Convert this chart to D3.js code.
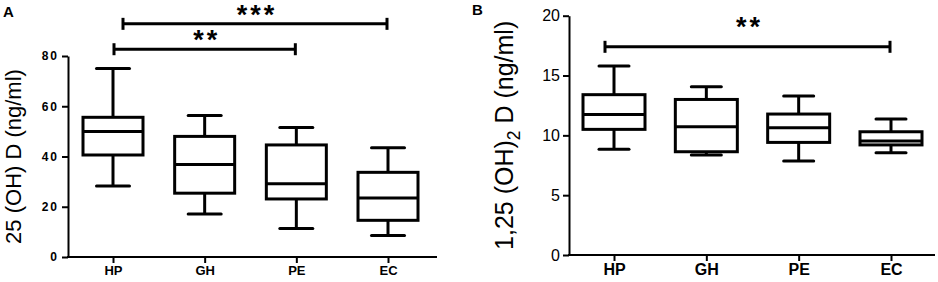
<!DOCTYPE html>
<html>
<head>
<meta charset="utf-8">
<script src="https://cdn.jsdelivr.net/npm/d3@7"></script>
<style>
	body { margin: 0; background: #fff; }
	svg { display: block; font-family: 'Liberation Sans', Arial, sans-serif; }
	.axis path, .axis line { stroke: #000; stroke-width: 2; }
	.box { fill: #fff; stroke: #000; stroke-width: 3; }
	.whisker { stroke: #000; stroke-width: 3; stroke-linecap: round; }
	.sig { stroke: #000; stroke-width: 3; }
</style>
</head>
<body>
<div id="graphic"></div>
<script>
var categories = ['HP', 'GH', 'PE', 'EC'];

// panel A: 25 (OH) D, ng/ml  [min, q1, median, q3, max]
var statsA = [
	[28.3, 40.6, 50.0, 55.6, 75.0],
	[17.1, 25.4, 36.8, 48.0, 56.3],
	[11.3, 23.1, 29.2, 44.6, 51.5],
	[8.6, 14.6, 23.5, 33.7, 43.5]
];
var ticksA = [0, 20, 40, 60, 80];
var sigA = [
	{ from: 'HP', to: 'EC', level: 92.8, label: '***' },
	{ from: 'HP', to: 'PE', level: 82.7, label: '**' }
];

// panel B: 1,25 (OH)2 D, ng/ml
var statsB = [
	[8.83, 10.5, 11.75, 13.4, 15.8],
	[8.35, 8.63, 10.72, 13.0, 14.06],
	[7.85, 9.41, 10.64, 11.78, 13.28],
	[8.55, 9.2, 9.52, 10.3, 11.36]
];
var ticksB = [0, 5, 10, 15, 20];
var sigB = [
	{ from: 'HP', to: 'EC', level: 17.4, label: '**' }
];

var svg = d3.select('#graphic').append('svg')
	.attr('width', 938).attr('height', 282);

function drawPanel(opt) {
	var g = svg.append('g');

	var x = d3.scalePoint().domain(categories).range(opt.xRange);
	var y = d3.scaleLinear().domain([0, d3.max(opt.ticks)]).range(opt.yRange);

	// y axis
	var yAxis = d3.axisLeft(y).tickValues(opt.ticks).tickSize(6).tickSizeOuter(0).tickPadding(3);
	var ya = g.append('g').attr('class', 'axis')
		.attr('transform', 'translate(' + opt.axisLeft + ',0)')
		.call(yAxis);
	ya.selectAll('text')
		.attr('fill', '#000')
		.style('font-size', opt.tickFont + 'px')
		.style('font-weight', opt.tickWeight)
		.style('letter-spacing', opt.tickSpacing + 'px');

	// x axis
	var xAxis = d3.axisBottom(x).tickSize(6).tickSizeOuter(0).tickPadding(3);
	var xa = g.append('g').attr('class', 'axis')
		.attr('transform', 'translate(0,' + opt.yRange[0] + ')')
		.call(xAxis);
	xa.select('.domain').remove();
	xa.append('line')
		.attr('x1', opt.axisLeft - 1).attr('x2', opt.axisRight)
		.attr('y1', 0).attr('y2', 0);
	xa.selectAll('text')
		.attr('fill', '#000')
		.style('font-size', opt.catFont + 'px')
		.style('font-weight', 'bold');

	// boxes
	var bw = opt.boxWidth, cw = opt.capWidth;
	var boxes = g.selectAll('g.bp').data(opt.stats).join('g').attr('class', 'bp');
	boxes.append('line').attr('class', 'whisker')
		.attr('x1', (d, i) => x(categories[i])).attr('x2', (d, i) => x(categories[i]))
		.attr('y1', (d) => y(d[0])).attr('y2', (d) => y(d[4]))
		.style('stroke-linecap', 'butt');
	boxes.append('line').attr('class', 'whisker')
		.attr('x1', (d, i) => x(categories[i]) - cw / 2).attr('x2', (d, i) => x(categories[i]) + cw / 2)
		.attr('y1', (d) => y(d[4])).attr('y2', (d) => y(d[4]));
	boxes.append('line').attr('class', 'whisker')
		.attr('x1', (d, i) => x(categories[i]) - cw / 2).attr('x2', (d, i) => x(categories[i]) + cw / 2)
		.attr('y1', (d) => y(d[0])).attr('y2', (d) => y(d[0]));
	boxes.append('rect').attr('class', 'box')
		.attr('x', (d, i) => x(categories[i]) - bw / 2)
		.attr('width', bw)
		.attr('y', (d) => y(d[3]))
		.attr('height', (d) => y(d[1]) - y(d[3]));
	boxes.append('line').attr('class', 'whisker')
		.style('stroke-linecap', 'butt')
		.attr('x1', (d, i) => x(categories[i]) - bw / 2).attr('x2', (d, i) => x(categories[i]) + bw / 2)
		.attr('y1', (d) => y(d[2])).attr('y2', (d) => y(d[2]));

	// significance bars
	opt.sig.forEach(function (s, i) {
		var x1 = x(s.from) + (opt.sigInset[i] || 0), x2 = x(s.to) - 1, yy = y(s.level);
		g.append('line').attr('class', 'sig').attr('x1', x1).attr('x2', x2).attr('y1', yy).attr('y2', yy);
		[x1, x2].forEach(function (xx) {
			g.append('line').attr('class', 'sig').attr('x1', xx).attr('x2', xx)
				.attr('y1', yy - 6).attr('y2', yy + 6);
		});
		g.append('text')
			.attr('x', (x1 + x2) / 2 + 2)
			.attr('y', yy + opt.starDy)
			.attr('text-anchor', 'middle')
			.style('font-size', '27px')
			.style('font-weight', 'bold')
			.style('letter-spacing', '3px')
			.text(s.label);
	});

	// y label
	var lab = g.append('text')
		.attr('transform', 'translate(' + opt.labelX + ',' + ((opt.yRange[0] + opt.yRange[1]) / 2 + opt.labelDy) + ') rotate(-90)')
		.attr('text-anchor', 'middle')
		.attr('dominant-baseline', 'central')
		.style('font-size', opt.labelFont + 'px');
	opt.label.forEach(function (p) {
		var t = lab.append('tspan').text(p.t);
		if (p.sub) t.attr('baseline-shift', 'sub').style('font-size', (opt.labelFont * 0.7) + 'px');
	});

	// panel letter
	g.append('text')
		.attr('x', opt.letterX).attr('y', opt.letterY)
		.style('font-size', '15px').style('font-weight', 'bold')
		.text(opt.letter);
}

drawPanel({
	stats: statsA, ticks: ticksA, sig: sigA, sigInset: [10, 1],
	xRange: [113, 388], yRange: [257, 56], axisLeft: 68, axisRight: 437,
	tickFont: 12, tickWeight: 'bold', tickSpacing: 2, catFont: 13,
	boxWidth: 60, capWidth: 33, starDy: 0,
	label: [{ t: '25 (OH) D (ng/ml)' }], labelX: 13, labelDy: 0, labelFont: 22,
	letter: 'A', letterX: 3, letterY: 17
});

drawPanel({
	stats: statsB, ticks: ticksB, sig: sigB, sigInset: [-9],
	xRange: [614, 891], yRange: [255, 15.7], axisLeft: 569, axisRight: 935,
	tickFont: 16, tickWeight: 'normal', tickSpacing: 0, catFont: 16,
	boxWidth: 62, capWidth: 30, starDy: -11,
	label: [{ t: '1,25 (OH)' }, { t: '2', sub: true }, { t: ' D (ng/ml)' }], labelX: 504, labelDy: 0, labelFont: 25,
	letter: 'B', letterX: 472, letterY: 15
});
</script>
</body>
</html>
